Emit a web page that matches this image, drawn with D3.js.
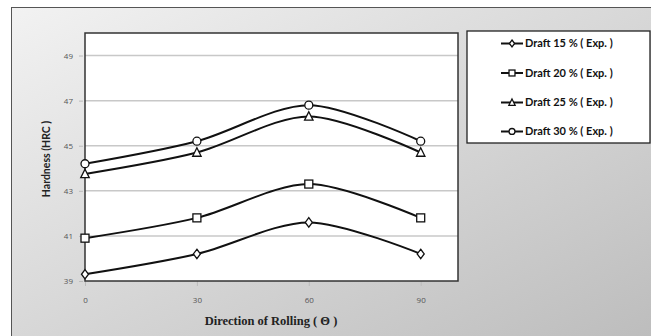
<!DOCTYPE html>
<html><head><meta charset="utf-8">
<script src="https://cdnjs.cloudflare.com/ajax/libs/d3/7.8.5/d3.min.js"></script>
<style>html,body{margin:0;padding:0;background:#fff;}svg{display:block;}</style>
</head><body>
<script>
const angles = [0, 30, 60, 90];
const seriesNames = ["Draft 15 % ( Exp. )", "Draft 20 % ( Exp. )", "Draft 25 % ( Exp. )", "Draft 30 % ( Exp. )"];
const draft15 = [39.3, 40.2, 41.6, 40.2];
const draft20 = [40.9, 41.8, 43.3, 41.8];
const draft25 = [43.75, 44.7, 46.3, 44.7];
const draft30 = [44.2, 45.2, 46.8, 45.2];
const yTicks = [39, 41, 43, 45, 47, 49];
const xTicks = [0, 30, 60, 90];
const markerTypes = ["diamond", "square", "triangle", "circle"];

const W = 651, H = 336;
const svg = d3.select("body").append("svg").attr("width", W).attr("height", H);
const defs = svg.append("defs");
const grad = defs.append("linearGradient").attr("id", "bg").attr("x1", "0").attr("y1", "0").attr("x2", "1").attr("y2", "1");
grad.append("stop").attr("offset", "0").attr("stop-color", "#f2f2f2");
grad.append("stop").attr("offset", "1").attr("stop-color", "#bdbdbd");

svg.append("rect").attr("x", 0).attr("y", 0).attr("width", W).attr("height", H).attr("fill", "#fff");
svg.append("rect").attr("x", 11.5).attr("y", 7.5).attr("width", W - 11).attr("height", H - 7)
  .attr("fill", "url(#bg)").attr("stroke", "#555").attr("stroke-width", 1);

const m = {l: 85, t: 33, r: 458, b: 281};
const x = d3.scaleLinear().domain([0, 100]).range([m.l, m.r]);
const y = d3.scaleLinear().domain([39, 50]).range([m.b, m.t]);

svg.append("rect").attr("x", m.l).attr("y", m.t).attr("width", m.r - m.l).attr("height", m.b - m.t).attr("fill", "#fff");

// gridlines
svg.append("g").selectAll("line").data(yTicks.filter(d => d > 39)).join("line")
  .attr("x1", m.l).attr("x2", m.r).attr("y1", d => y(d)).attr("y2", d => y(d))
  .attr("stroke", "#c8c8c8").attr("stroke-width", 1.5);

// y axis
const yAxis = svg.append("g").attr("transform", `translate(${m.l - 6},0)`)
  .call(d3.axisLeft(y).tickValues(yTicks).tickSize(4).tickPadding(2));
yAxis.select(".domain").remove();
yAxis.selectAll("line").attr("stroke", "#bbb").attr("transform", "translate(4,0)");
yAxis.selectAll("text").attr("font-family", "Open Sans, sans-serif").attr("font-size", 8).attr("fill", "#555");

// x axis
const xAxis = svg.append("g").attr("transform", `translate(0,${m.b})`)
  .call(d3.axisBottom(x).tickValues(xTicks).tickSize(5).tickPadding(11));
xAxis.select(".domain").remove();
xAxis.selectAll("line").attr("stroke", "#bbb");
xAxis.selectAll("text").attr("font-family", "Open Sans, sans-serif").attr("font-size", 8).attr("fill", "#555");

// plot border
svg.append("rect").attr("x", m.l).attr("y", m.t).attr("width", m.r - m.l).attr("height", m.b - m.t)
  .attr("fill", "none").attr("stroke", "#333").attr("stroke-width", 1.5);

function marker(g, type, cx, cy, s) {
  const st = {fill: "#fff", stroke: "#111", "stroke-width": 1.3};
  let el;
  if (type === "diamond") {
    el = g.append("path").attr("d", `M${cx},${cy - s}L${cx + s * 0.75},${cy}L${cx},${cy + s}L${cx - s * 0.75},${cy}Z`);
  } else if (type === "square") {
    el = g.append("rect").attr("x", cx - s * 0.85).attr("y", cy - s * 0.85).attr("width", s * 1.7).attr("height", s * 1.7);
  } else if (type === "triangle") {
    el = g.append("path").attr("d", `M${cx},${cy - s}L${cx + s * 0.9},${cy + s * 0.8}L${cx - s * 0.9},${cy + s * 0.8}Z`);
  } else {
    el = g.append("circle").attr("cx", cx).attr("cy", cy).attr("r", s * 0.85);
  }
  Object.entries(st).forEach(([k, v]) => el.attr(k, v));
}

const allSeries = [draft15, draft20, draft25, draft30];
const line = d3.line().x((d, i) => x(angles[i])).y(d => y(d)).curve(d3.curveCardinal.tension(0.1));
const gl = svg.append("g");
allSeries.forEach((vals, si) => {
  gl.append("path").attr("d", line(vals)).attr("fill", "none").attr("stroke", "#111").attr("stroke-width", 2);
});
allSeries.forEach((vals, si) => {
  vals.forEach((v, i) => marker(gl, markerTypes[si], x(angles[i]), y(v), 4.7));
});

// axis titles
svg.append("text").attr("x", 271).attr("y", 325).attr("text-anchor", "middle")
  .attr("font-family", "Liberation Serif, Times New Roman, serif").attr("font-weight", "bold").attr("font-size", 12.5)
  .attr("fill", "#222").text("Direction of Rolling ( \u0398  )");
svg.append("text").attr("transform", "translate(50,159) rotate(-90)").attr("text-anchor", "middle")
  .attr("font-family", "Lato, sans-serif").attr("font-weight", "bold").attr("font-size", 10.5)
  .attr("fill", "#222").text("Hardness (HRC )");

// legend
svg.append("rect").attr("x", 467).attr("y", 31).attr("width", 183).attr("height", 112)
  .attr("fill", "#fff").attr("stroke", "#222").attr("stroke-width", 1.3);
const legY = [43.5, 73, 102.5, 131.5];
seriesNames.forEach((name, i) => {
  const g = svg.append("g");
  g.append("line").attr("x1", 501).attr("x2", 523).attr("y1", legY[i]).attr("y2", legY[i]).attr("stroke", "#111").attr("stroke-width", 2);
  marker(g, markerTypes[i], 512, legY[i], 3.5);
  g.append("text").attr("x", 525).attr("y", legY[i] + 3.6).attr("font-family", "Lato, sans-serif")
    .attr("font-weight", "bold").attr("font-size", 11).attr("fill", "#111").text(name);
});
</script>
</body></html>
